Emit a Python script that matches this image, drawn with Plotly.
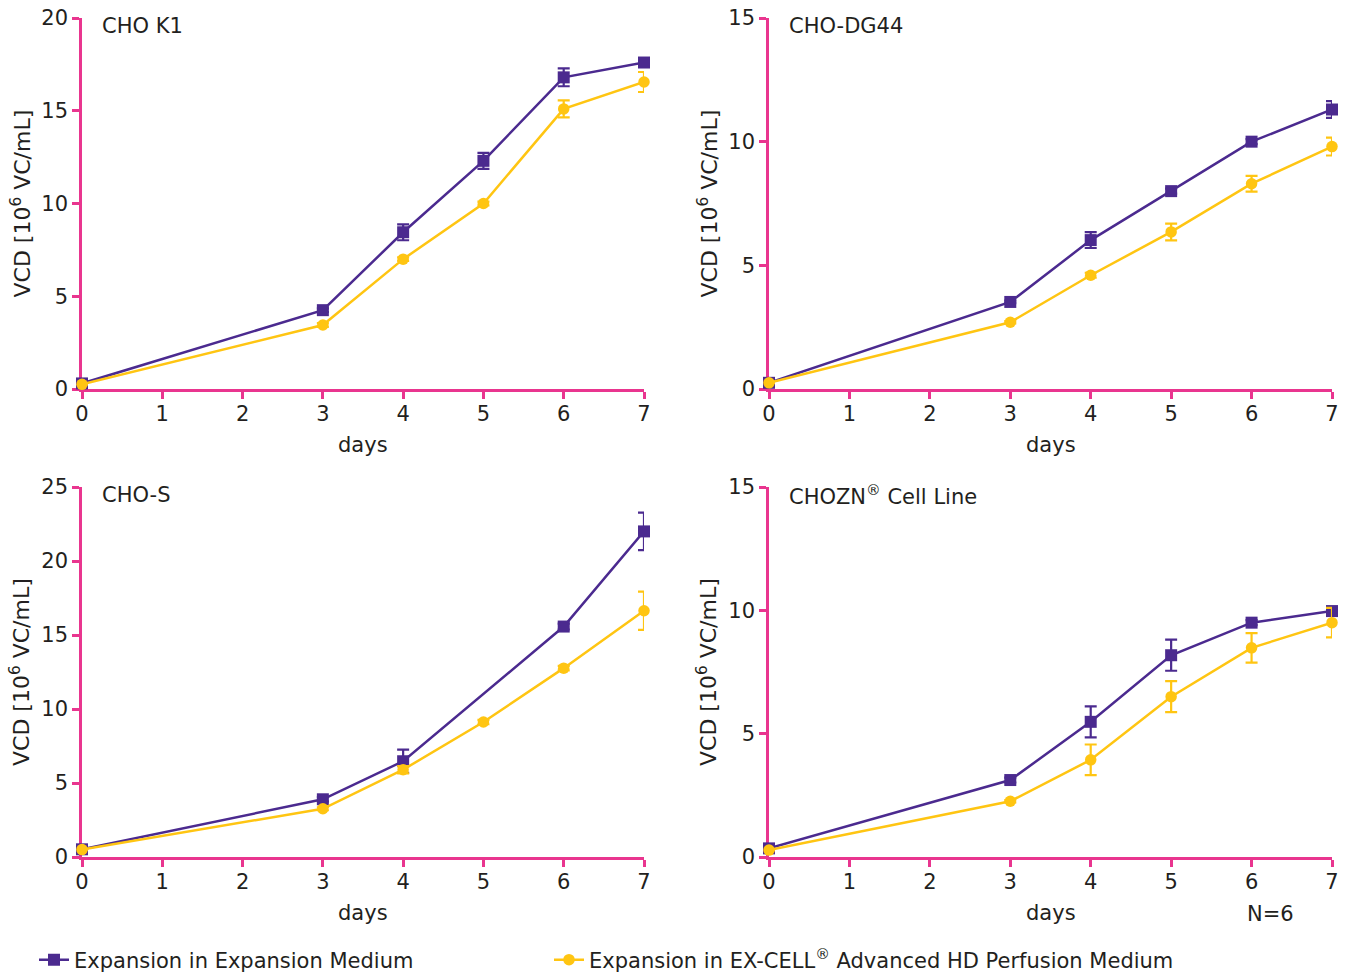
import plotly.graph_objects as go

W, H = 1348, 972

# ---------------- data ----------------
days = [0, 3, 4, 5, 6, 7]
x_ticks = [0, 1, 2, 3, 4, 5, 6, 7]

series_names = ["Expansion in Expansion Medium",
                "Expansion in EX-CELL<sup>®</sup> Advanced HD Perfusion Medium"]
panel_titles = ["CHO K1", "CHO-DG44", "CHO-S", "CHOZN<sup>®</sup> Cell Line"]
y_max = [20, 15, 25, 15]

k1_exp = [0.3, 4.25, 8.45, 12.3, 16.8, 17.6]
k1_exp_err = [0, 0.1, 0.43, 0.43, 0.48, 0.2]
k1_perf = [0.25, 3.45, 7.0, 10.0, 15.1, 16.55]
k1_perf_err = [0, 0.1, 0.1, 0.1, 0.46, 0.54]

dg_exp = [0.25, 3.52, 6.02, 8.0, 10.0, 11.3]
dg_exp_err = [0, 0.05, 0.32, 0.1, 0.1, 0.34]
dg_perf = [0.25, 2.7, 4.6, 6.35, 8.3, 9.8]
dg_perf_err = [0, 0.05, 0.1, 0.34, 0.32, 0.36]

s_exp = [0.52, 3.9, 6.47, None, 15.57, 22.0]
s_exp_err = [0, 0.15, 0.79, 0, 0.2, 1.27]
s_perf = [0.5, 3.26, 5.9, 9.12, 12.76, 16.64]
s_perf_err = [0, 0.1, 0.25, 0.15, 0.15, 1.29]

zn_exp = [0.35, 3.12, 5.48, 8.18, 9.5, 9.97]
zn_exp_err = [0, 0.1, 0.63, 0.63, 0.1, 0.15]
zn_perf = [0.28, 2.26, 3.94, 6.5, 8.48, 9.5]
zn_perf_err = [0, 0.05, 0.62, 0.63, 0.6, 0.6]

exp_series = [(k1_exp, k1_exp_err), (dg_exp, dg_exp_err), (s_exp, s_exp_err), (zn_exp, zn_exp_err)]
perf_series = [(k1_perf, k1_perf_err), (dg_perf, dg_perf_err), (s_perf, s_perf_err), (zn_perf, zn_perf_err)]

# ---------------- style ----------------
PURPLE = "#4b2a8f"
YELLOW = "#ffc512"
PINK = "#e9358f"
TEXT = "#231f20"
FONT = "DejaVu Sans"
FS = 21

# panel boxes in pixels: (left, right, top, bottom)
boxes = [(82, 644, 18, 389), (769, 1332, 18, 389),
         (82, 644, 487, 857), (769, 1332, 487, 857)]


def px(x):
    return x / W


def py(y):
    return 1 - y / H


fig = go.Figure()
for i in range(4):
    ax = "" if i == 0 else str(i + 1)
    ey, ee = exp_series[i]
    pyv, pe = perf_series[i]
    fig.add_trace(go.Scatter(
        x=days, y=ey, xaxis="x" + ax, yaxis="y" + ax,
        mode="lines+markers", name=series_names[0], legend="legend",
        showlegend=(i == 0), connectgaps=True, cliponaxis=False,
        line=dict(color=PURPLE, width=2.5),
        marker=dict(symbol="square", size=12, color=PURPLE),
        error_y=dict(type="data", array=ee, color=PURPLE, thickness=2.2, width=6),
    ))
    fig.add_trace(go.Scatter(
        x=days, y=pyv, xaxis="x" + ax, yaxis="y" + ax,
        mode="lines+markers", name=series_names[1], legend="legend2",
        showlegend=(i == 0), connectgaps=True, cliponaxis=False,
        line=dict(color=YELLOW, width=2.5),
        marker=dict(symbol="circle", size=11.5, color=YELLOW),
        error_y=dict(type="data", array=pe, color=YELLOW, thickness=2.2, width=6),
    ))

leg_common = dict(orientation="h", y=py(960), xanchor="left", yanchor="middle",
                  font=dict(family=FONT, size=FS, color=TEXT), bgcolor="rgba(0,0,0,0)")

layout = dict(
    width=W, height=H,
    margin=dict(l=0, r=0, t=0, b=0, autoexpand=False),
    paper_bgcolor="white", plot_bgcolor="white",
    font=dict(family=FONT, size=FS, color=TEXT),
    showlegend=True,
    legend=dict(x=px(34), **leg_common),
    legend2=dict(x=px(549), **leg_common),
)

annotations = []
for i, (l, r, t, b) in enumerate(boxes):
    ax = "" if i == 0 else str(i + 1)
    layout["xaxis" + ax] = dict(
        domain=[px(l), px(r)], anchor="y" + ax, range=[0, 7],
        tickvals=x_ticks, showgrid=False, zeroline=False, automargin=False,
        showline=True, linecolor=PINK, linewidth=2.5,
        ticks="outside", ticklen=7, tickwidth=2.5, tickcolor=PINK,
        ticklabelstandoff=-3,
        tickfont=dict(size=FS, color=TEXT), layer="below traces",
    )
    layout["yaxis" + ax] = dict(
        domain=[py(b), py(t)], anchor="x" + ax, range=[0, y_max[i]],
        dtick=5, showgrid=False, zeroline=False, automargin=False,
        showline=True, linecolor=PINK, linewidth=2.5,
        ticks="outside", ticklen=7, tickwidth=2.5, tickcolor=PINK,
        tickfont=dict(size=FS, color=TEXT), layer="below traces",
    )
    annotations.append(dict(text=panel_titles[i], x=px(l + 18), y=py(t + 8),
                            xref="paper", yref="paper", xanchor="left", yanchor="middle",
                            showarrow=False, font=dict(size=FS, color=TEXT)))
    annotations.append(dict(text="days", x=px((l + r) / 2), y=py(b + 56),
                            xref="paper", yref="paper", xanchor="center", yanchor="middle",
                            showarrow=False, font=dict(size=FS, color=TEXT)))
    annotations.append(dict(text="VCD [10<sup>6</sup> VC/mL]", x=px(l - 62), y=py((t + b) / 2),
                            xref="paper", yref="paper", xanchor="center", yanchor="middle",
                            textangle=-90, showarrow=False, font=dict(size=22, color=TEXT)))

annotations.append(dict(text="N=6", x=px(1270), y=py(914), xref="paper", yref="paper",
                        xanchor="center", yanchor="middle", showarrow=False,
                        font=dict(size=FS, color=TEXT)))
layout["annotations"] = annotations

fig.update_layout(**layout)
fig.write_html("out.html")
